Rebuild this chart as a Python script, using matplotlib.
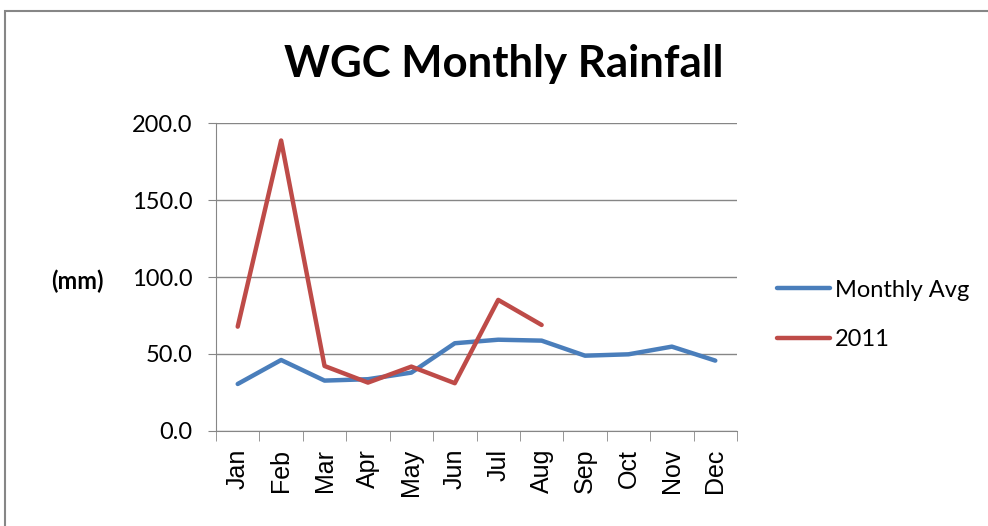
import numpy as np
import matplotlib.pyplot as plt
from matplotlib.patches import Rectangle

# Monatswerte (mm)
monate = ['Jan', 'Feb', 'Mar', 'Apr', 'May', 'Jun',
          'Jul', 'Aug', 'Sep', 'Oct', 'Nov', 'Dec']
monthly_avg = [30.4, 46.0, 32.6, 33.5, 37.8, 56.9,
               59.2, 58.6, 48.8, 49.7, 54.7, 45.6]
jahr_2011 = [67.7, 188.8, 42.1, 31.3, 41.7, 30.9, 85.1, 68.8]
y_ticks = [0, 50, 100, 150, 200]

plt.rcParams['font.family'] = ['Lato', 'DejaVu Sans']

fig = plt.figure(figsize=(9.88, 5.26), dpi=100)
# Rahmen um das Diagramm
fig.patches.append(Rectangle((5 / 988, -0.05), 1.2, 1 - 11 / 526 + 0.05,
                             transform=fig.transFigure, fill=False,
                             edgecolor='#868686', linewidth=1.5))
ax = fig.add_axes([216 / 988, 1 - 430.7 / 526, 521 / 988, 307.4 / 526])

x = np.arange(len(monate))
ax.plot(x, monthly_avg, color='#4A7EBB', linewidth=3.2,
        solid_capstyle='round', label='Monthly Avg')
ax.plot(x[:len(jahr_2011)], jahr_2011, color='#BE4B48', linewidth=3.2,
        solid_capstyle='round', label='2011')

ax.set_xlim(-0.5, len(monate) - 0.5)
ax.set_ylim(0, 200)
ax.set_yticks(y_ticks)
ax.set_yticklabels(['%.1f' % v for v in y_ticks], fontsize=17)
ax.set_xticks(x)
ax.set_xticklabels(monate, rotation=90, fontsize=18,
                   family='Liberation Sans')
ax.tick_params(axis='x', length=0, pad=13)
ax.set_xticks(np.arange(-0.5, len(monate)), minor=True)
ax.tick_params(axis='x', which='minor', length=7, color='#868686')
ax.tick_params(axis='y', length=6, color='#868686', pad=11)

ax.grid(axis='y', color='#868686', linewidth=1)
ax.set_axisbelow(True)
for s in ['top', 'right']:
    ax.spines[s].set_visible(False)
for s in ['left', 'bottom']:
    ax.spines[s].set_color('#868686')

fig.text(77 / 988, 1 - 281 / 526, '(mm)', fontsize=17, fontweight='bold',
         ha='center', va='center')
fig.text(504 / 988, 1 - 64 / 526, 'WGC Monthly Rainfall', fontsize=31.5,
         fontweight='bold', ha='center', va='center')

ax.legend(loc='center left', bbox_to_anchor=((777 - 216) / 521, 0.377),
          frameon=False, fontsize=17, handlelength=2.25, labelspacing=1.2,
          handletextpad=0.2, borderaxespad=0, borderpad=0)

fig.savefig('out.png', dpi=100)
